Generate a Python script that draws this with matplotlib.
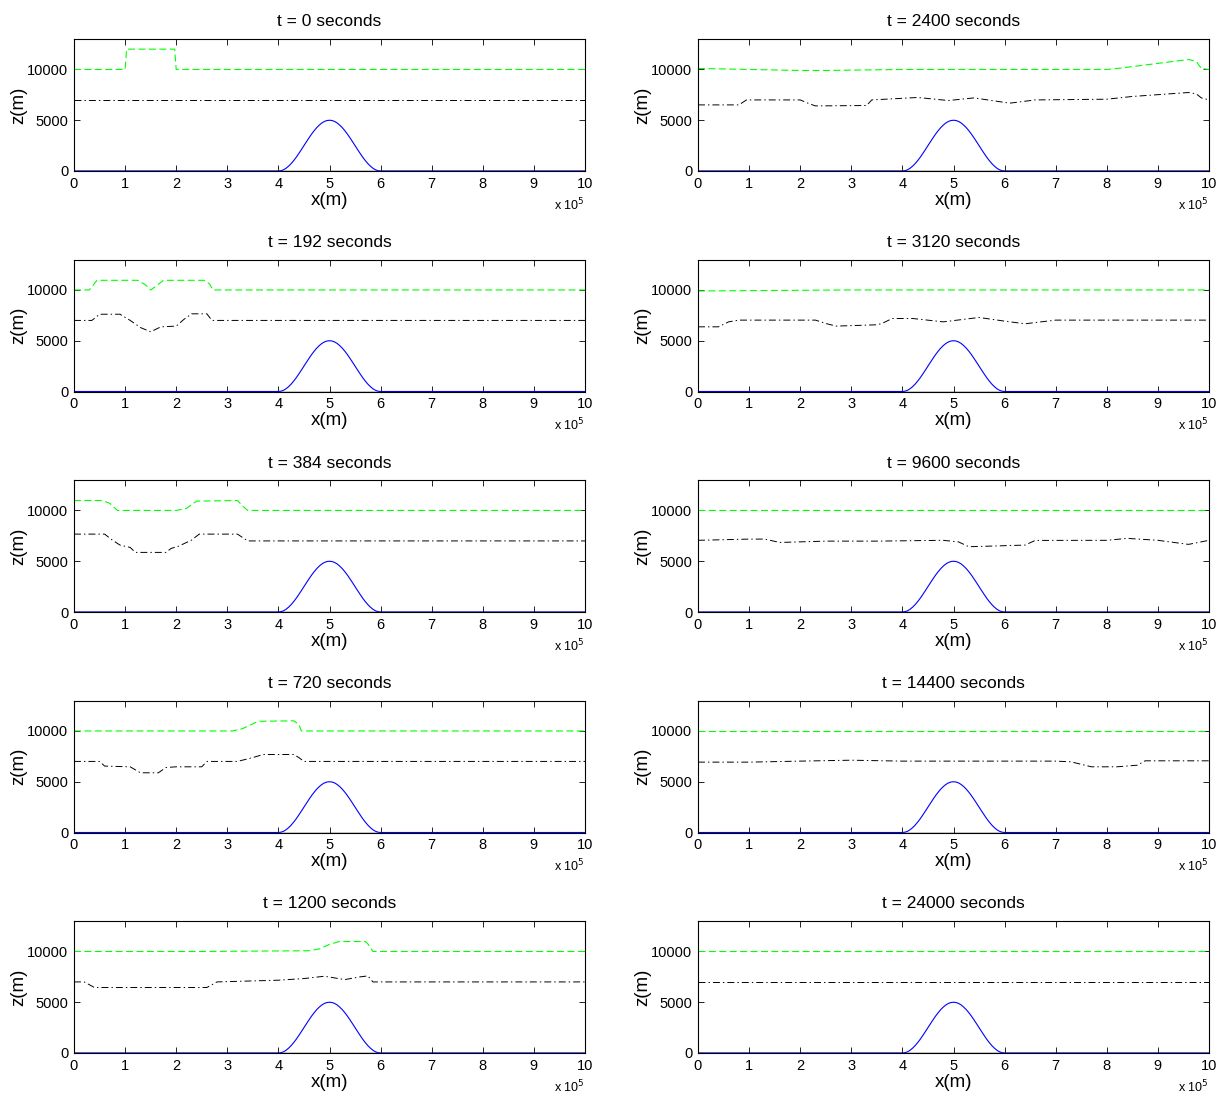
#!/usr/bin/env python3
"""
Flow over a bell-shaped mountain: two material surfaces at ten output times.
"""

import matplotlib
matplotlib.use("Agg")
import matplotlib.pyplot as plt
from matplotlib.ticker import FuncFormatter, FixedLocator

plt.rcParams['font.family'] = ['Liberation Sans', 'DejaVu Sans']
plt.rcParams['lines.scale_dashes'] = False

X_SCALE = 1e5  # x values below are in units of 1e5 m

# Mountain profile (x in 1e5 m, z in m)
mtn_x = [0.0, 4.0, 4.05, 4.1, 4.15, 4.2, 4.25, 4.3, 4.35, 4.4, 4.45, 4.5,
         4.55, 4.6, 4.65, 4.7, 4.75, 4.8, 4.85, 4.9, 4.95, 5.0,
         5.05, 5.1, 5.15, 5.2, 5.25, 5.3, 5.35, 5.4, 5.45, 5.5,
         5.55, 5.6, 5.65, 5.7, 5.75, 5.8, 5.85, 5.9, 5.95, 6.0, 10.0]
mtn_z = [0, 0, 30, 120, 270, 480, 730, 1030, 1360, 1730, 2110, 2500,
         2890, 3270, 3640, 3970, 4270, 4520, 4730, 4880, 4970, 5000,
         4970, 4880, 4730, 4520, 4270, 3970, 3640, 3270, 2890, 2500,
         2110, 1730, 1360, 1030, 730, 480, 270, 120, 30, 0, 0]

titles = ["t = 0 seconds", "t = 192 seconds", "t = 384 seconds",
          "t = 720 seconds", "t = 1200 seconds", "t = 2400 seconds",
          "t = 3120 seconds", "t = 9600 seconds", "t = 14400 seconds",
          "t = 24000 seconds"]

# Upper surface (green dashed)
up_x_0 = [0, 1.0, 1.03, 1.97, 2.0, 10]
up_z_0 = [10000, 10000, 12000, 12000, 10000, 10000]
up_x_192 = [0, 0.3, 0.45, 1.25, 1.4, 1.5, 1.6, 1.75, 2.55, 2.65, 2.72, 10]
up_z_192 = [10000, 10000, 10950, 10950, 10500, 10000, 10350, 10950, 10950, 10600, 10000, 10000]
up_x_384 = [0, 0.55, 0.7, 0.85, 2.0, 2.2, 2.4, 3.2, 3.3, 3.4, 10]
up_z_384 = [10980, 10980, 10700, 10000, 10000, 10200, 10920, 10980, 10450, 10000, 10000]
up_x_720 = [0, 3.1, 3.3, 3.6, 4.3, 4.4, 4.45, 10]
up_z_720 = [10000, 10000, 10230, 10950, 11000, 10650, 10000, 10000]
up_x_1200 = [0, 2.5, 4.6, 4.8, 5.0, 5.2, 5.7, 5.75, 5.85, 10]
up_z_1200 = [10000, 10000, 10070, 10250, 10700, 10980, 10980, 10750, 10000, 10000]
up_x_2400 = [0, 1.0, 2.0, 2.5, 4.0, 8.0, 8.3, 9.0, 9.6, 9.75, 9.85, 10]
up_z_2400 = [10100, 10000, 9900, 9900, 10000, 10000, 10150, 10600, 10980, 10800, 10100, 10000]
up_x_3120 = [0, 3.0, 10]
up_z_3120 = [9900, 10000, 10000]
up_x_9600 = [0, 10]
up_z_9600 = [10000, 10000]
up_x_14400 = [0, 10]
up_z_14400 = [10000, 10000]
up_x_24000 = [0, 10]
up_z_24000 = [10000, 10000]

# Lower surface (black dash-dot)
lo_x_0 = [0, 10]
lo_z_0 = [7000, 7000]
lo_x_192 = [0, 0.35, 0.5, 0.9, 1.1, 1.3, 1.5, 1.7, 2.0, 2.15, 2.3, 2.6, 2.7, 10]
lo_z_192 = [7000, 7000, 7610, 7610, 7000, 6300, 5880, 6370, 6440, 7100, 7650, 7650, 7000, 7000]
lo_x_384 = [0, 0.6, 0.75, 0.9, 1.1, 1.2, 1.8, 1.9, 2.05, 2.3, 2.45, 3.2, 3.3, 3.4, 10]
lo_z_384 = [7670, 7670, 7080, 6590, 6360, 5870, 5870, 6260, 6490, 7080, 7670, 7670, 7330, 7000, 7000]
lo_x_720 = [0, 0.5, 0.6, 1.1, 1.3, 1.65, 1.8, 2.0, 2.5, 2.6, 3.2, 3.5, 3.7, 4.3, 4.4, 4.5, 10]
lo_z_720 = [7000, 7000, 6540, 6470, 5880, 5880, 6400, 6470, 6470, 7000, 7000, 7380, 7680, 7680, 7380, 7000, 7000]
lo_x_1200 = [0, 0.2, 0.4, 2.6, 2.8, 4.0, 4.5, 4.9, 5.3, 5.6, 5.75, 5.85, 10]
lo_z_1200 = [7000, 7000, 6450, 6450, 7000, 7170, 7330, 7560, 7230, 7500, 7590, 7000, 7000]
lo_x_2400 = [0, 0.8, 0.95, 2.0, 2.2, 2.3, 3.3, 3.4, 4.3, 4.9, 5.4, 6.1, 6.6, 8.0, 8.5, 9.6, 9.75, 9.85, 10]
lo_z_2400 = [6510, 6510, 7000, 7000, 6580, 6410, 6450, 7000, 7240, 6940, 7200, 6680, 7000, 7070, 7340, 7730, 7600, 7200, 7000]
lo_x_3120 = [0, 0.4, 0.6, 0.8, 2.3, 2.5, 2.7, 3.5, 3.6, 3.8, 4.2, 4.8, 5.5, 6.0, 6.4, 7.0, 10]
lo_z_3120 = [6370, 6370, 6860, 7030, 7030, 6700, 6440, 6570, 6700, 7190, 7190, 6860, 7290, 6930, 6670, 7030, 7030]
lo_x_9600 = [0, 1.0, 1.3, 1.6, 2.5, 3.5, 4.8, 5.1, 5.3, 5.8, 6.4, 6.6, 8.0, 8.4, 9.0, 9.6, 10]
lo_z_9600 = [7060, 7180, 7180, 6850, 6980, 6980, 7060, 6900, 6430, 6500, 6590, 7050, 7060, 7250, 7060, 6660, 7060]
lo_x_14400 = [0, 1.0, 2.0, 3.0, 4.0, 7.0, 7.3, 7.7, 8.2, 8.6, 8.75, 10]
lo_z_14400 = [6930, 6930, 7030, 7120, 7030, 7030, 6960, 6470, 6470, 6630, 7060, 7060]
lo_x_24000 = [0, 10]
lo_z_24000 = [7000, 7000]

upper = [(up_x_0, up_z_0), (up_x_192, up_z_192), (up_x_384, up_z_384),
         (up_x_720, up_z_720), (up_x_1200, up_z_1200), (up_x_2400, up_z_2400),
         (up_x_3120, up_z_3120), (up_x_9600, up_z_9600),
         (up_x_14400, up_z_14400), (up_x_24000, up_z_24000)]
lower = [(lo_x_0, lo_z_0), (lo_x_192, lo_z_192), (lo_x_384, lo_z_384),
         (lo_x_720, lo_z_720), (lo_x_1200, lo_z_1200), (lo_x_2400, lo_z_2400),
         (lo_x_3120, lo_z_3120), (lo_x_9600, lo_z_9600),
         (lo_x_14400, lo_z_14400), (lo_x_24000, lo_z_24000)]


def scaled(xs):
    return [v * X_SCALE for v in xs]


fig = plt.figure(figsize=(12.18, 10.93), dpi=100)
W, H = 1218.0, 1093.0

for i in range(10):
    col = i // 5
    row = i % 5
    left_px = 74 if col == 0 else 698
    top_px = 39 + 220.5 * row
    ax = fig.add_axes([left_px / W, 1 - (top_px + 132) / H, 511 / W, 132 / H])

    ux, uz = upper[i]
    lx, lz = lower[i]
    ax.plot(scaled([0, 10]), [0, 0], color='black', lw=1.0)
    ax.plot(scaled(ux), uz, color='#00ff00', lw=0.8, linestyle=(0, (5, 2.5)))
    ax.plot(scaled(lx), lz, color='black', lw=0.7,
            linestyle=(0, (5, 2.2, 1, 2.2)))
    ax.plot(scaled(mtn_x), mtn_z, color='#0000ff', lw=0.8)

    ax.set_xlim(0, 10 * X_SCALE)
    ax.set_ylim(0, 13000)
    ax.xaxis.set_major_locator(FixedLocator([k * X_SCALE for k in range(11)]))
    ax.xaxis.set_major_formatter(FuncFormatter(lambda v, p: f"{v / X_SCALE:g}"))
    ax.yaxis.set_major_locator(FixedLocator([0, 5000, 10000]))
    ax.tick_params(direction='in', top=True, right=True, labelsize=10.5,
                   length=4, width=0.6, pad=4)
    for sp in ax.spines.values():
        sp.set_linewidth(0.8)

    ax.set_title(titles[i], fontsize=12.5, pad=9)
    ax.set_xlabel("x(m)", fontsize=13.5, labelpad=1)
    ax.set_ylabel("z(m)", fontsize=13.5, labelpad=0)
    ax.text(1.0, -0.255, r"x 10$^5$", transform=ax.transAxes,
            ha='right', va='center', fontsize=9)

fig.savefig("out.png", dpi=100)
